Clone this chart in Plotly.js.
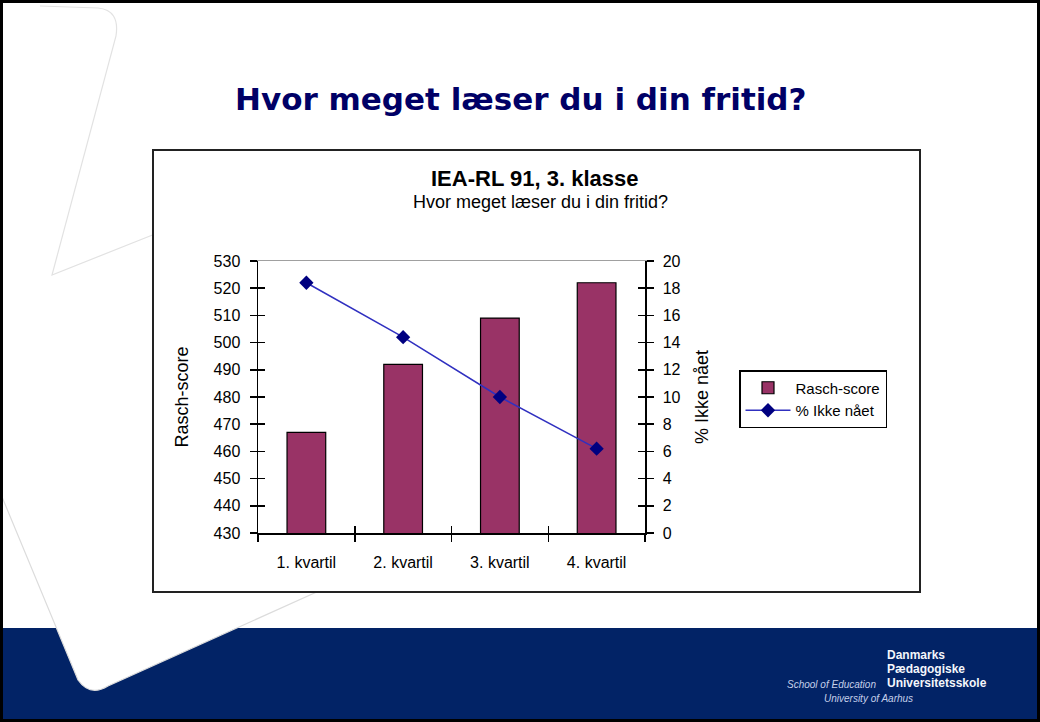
<!DOCTYPE html>
<html>
<head>
<meta charset="utf-8">
<script src="https://cdn.plot.ly/plotly-3.0.1.min.js"></script>
<style>
  html, body { margin: 0; padding: 0; background: #ffffff; }
  #chart { width: 1040px; height: 722px; }
</style>
</head>
<body>
<div id="chart"></div>
<script>
// ---- data ----
const categories = ['1. kvartil', '2. kvartil', '3. kvartil', '4. kvartil'];
const raschScore = [467, 492, 509, 522];
const pctIkkeNaaet = [18.4, 14.4, 10.0, 6.2];
const leftTicks = [430, 440, 450, 460, 470, 480, 490, 500, 510, 520, 530];
const rightTicks = [0, 2, 4, 6, 8, 10, 12, 14, 16, 18, 20];

const slideTitle = 'Hvor meget læser du i din fritid?';
const chartTitle = 'IEA-RL 91, 3. klasse';
const chartSubtitle = 'Hvor meget læser du i din fritid?';
const leftTitle = 'Rasch-score';
const rightTitle = '% Ikke nået';

// ---- layout helpers (pixel -> paper) ----
const L = 258, R = 645, T = 261, B = 533;
const px = x => (x - L) / (R - L);
const py = y => (B - y) / (B - T);
const path = pts => pts.map(p => {
  if (typeof p === 'string') return p;
  return px(p[0]).toFixed(5) + ',' + py(p[1]).toFixed(5);
}).join(' ');

const FONT = 'Liberation Sans, Arial, sans-serif';

const traces = [
  {
    type: 'bar',
    x: categories,
    y: raschScore,
    name: 'Rasch-score',
    marker: { color: '#993366', line: { color: '#000000', width: 1.2 } },
    xaxis: 'x', yaxis: 'y'
  },
  {
    type: 'scatter',
    mode: 'lines+markers',
    x: categories,
    y: pctIkkeNaaet,
    name: rightTitle,
    line: { color: '#3030c0', width: 1.5 },
    marker: { symbol: 'diamond', size: 11, color: '#000080' },
    xaxis: 'x', yaxis: 'y2'
  },
  // empty helper traces so the overlay axes (frame line, crossing ticks) get drawn
  { type: 'scatter', x: [], y: [], xaxis: 'x2', yaxis: 'y3', showlegend: false, hoverinfo: 'skip' },
  { type: 'scatter', x: [], y: [], xaxis: 'x3', yaxis: 'y4', showlegend: false, hoverinfo: 'skip' }
];

const shapes = [
  // footer band
  { type: 'rect', xref: 'paper', yref: 'paper', layer: 'below',
    x0: px(-5), x1: px(1045), y0: py(628), y1: py(727),
    fillcolor: '#022366', line: { width: 0 } },
  // white decorative shape (fill)
  { type: 'path', xref: 'paper', yref: 'paper', layer: 'below',
    path: 'M ' + path([[-5, 480], 'L', [78, 680], 'Q', [90, 697], [108, 686], 'L', [330, 586], 'L', [330, 480]]) + ' Z',
    fillcolor: '#ffffff', line: { width: 0 } },
  // decorative outline (lower)
  { type: 'path', xref: 'paper', yref: 'paper', layer: 'below',
    path: 'M ' + path([[-5, 480], 'L', [78, 680], 'Q', [90, 697], [108, 686], 'L', [330, 586]]),
    line: { color: '#dcdcdc', width: 1.2 } },
  // decorative outline (upper)
  { type: 'path', xref: 'paper', yref: 'paper', layer: 'below',
    path: 'M ' + path([[40, 6], 'L', [98, 8], 'Q', [120, 10], [116, 36], 'L', [52, 275], 'L', [160, 232]]),
    line: { color: '#e2e2e2', width: 1.2 } },
  // chart box
  { type: 'rect', xref: 'paper', yref: 'paper', layer: 'below',
    x0: px(153), x1: px(920), y0: py(592), y1: py(150),
    fillcolor: '#ffffff', line: { color: '#222222', width: 2 } },
  // slide border
  { type: 'rect', xref: 'paper', yref: 'paper', layer: 'above',
    x0: px(1.5), x1: px(1038.5), y0: py(720.5), y1: py(1.5),
    line: { color: '#000000', width: 3 } }
];

const annotations = [
  { text: '<b>' + slideTitle + '</b>', xref: 'paper', yref: 'paper',
    x: px(521), y: py(99), xanchor: 'center', yanchor: 'middle', showarrow: false,
    font: { family: 'DejaVu Sans, sans-serif', size: 31, color: '#000066' } },
  { text: '<b>' + chartTitle + '</b>', xref: 'paper', yref: 'paper',
    x: px(535), y: py(178), xanchor: 'center', yanchor: 'middle', showarrow: false,
    font: { family: FONT, size: 22, color: '#000000' } },
  { text: chartSubtitle, xref: 'paper', yref: 'paper',
    x: px(540), y: py(202), xanchor: 'center', yanchor: 'middle', showarrow: false,
    font: { family: FONT, size: 18, color: '#000000' } },
  // footer logo text
  { text: '<b>Danmarks</b>', xref: 'paper', yref: 'paper',
    x: px(885), y: py(655), xanchor: 'left', yanchor: 'middle', showarrow: false,
    font: { family: FONT, size: 12, color: '#f4f6fb' } },
  { text: '<b>Pædagogiske</b>', xref: 'paper', yref: 'paper',
    x: px(885), y: py(669), xanchor: 'left', yanchor: 'middle', showarrow: false,
    font: { family: FONT, size: 12, color: '#f4f6fb' } },
  { text: '<b>Universitetsskole</b>', xref: 'paper', yref: 'paper',
    x: px(885), y: py(683), xanchor: 'left', yanchor: 'middle', showarrow: false,
    font: { family: FONT, size: 12, color: '#f4f6fb' } },
  { text: '<i>School of Education</i>', xref: 'paper', yref: 'paper',
    x: px(878), y: py(684), xanchor: 'right', yanchor: 'middle', showarrow: false,
    font: { family: FONT, size: 10, color: '#c5d0ea' } },
  { text: '<i>University of Aarhus</i>', xref: 'paper', yref: 'paper',
    x: px(868), y: py(698), xanchor: 'center', yanchor: 'middle', showarrow: false,
    font: { family: FONT, size: 10, color: '#c5d0ea' } }
];

const axisFont = { family: FONT, size: 16, color: '#000000' };

const layout = {
  width: 1040, height: 722,
  margin: { l: L, r: 1040 - R, t: T, b: 722 - B, pad: 0 },
  paper_bgcolor: '#ffffff',
  plot_bgcolor: 'rgba(0,0,0,0)',
  font: { family: FONT, color: '#000000' },
  showlegend: true,
  bargap: 0.6,
  hovermode: false,
  xaxis: {
    type: 'category', categoryarray: categories, range: [-0.5, 3.5],
    ticks: 'outside', tickson: 'boundaries', ticklen: 7, tickwidth: 1.5, tickcolor: '#000',
    showline: true, linecolor: '#000', linewidth: 1.5,
    showgrid: false, zeroline: false, tickfont: axisFont, ticklabelstandoff: 14,
    fixedrange: true
  },
  xaxis2: {
    overlaying: 'x', anchor: 'y', side: 'top', range: [0, 1],
    showline: true, linecolor: '#a0a0a0', linewidth: 1.5,
    ticks: '', showticklabels: false, showgrid: false, zeroline: false
  },
  xaxis3: {
    overlaying: 'x', anchor: 'y', side: 'bottom', range: [-0.5, 3.5],
    tickvals: [0.5, 1.5, 2.5], ticks: 'inside', ticklen: 7, tickwidth: 1.5, tickcolor: '#000',
    showline: false, showticklabels: false, showgrid: false, zeroline: false
  },
  yaxis: {
    range: [430, 530], tickvals: leftTicks,
    ticks: 'outside', ticklen: 7, tickwidth: 1.5, tickcolor: '#000',
    showline: true, linecolor: '#000', linewidth: 1.5,
    showgrid: false, zeroline: false, tickfont: axisFont, ticklabelstandoff: 6,
    title: { text: leftTitle, font: { family: FONT, size: 18, color: '#000' }, standoff: 20 }
  },
  yaxis2: {
    overlaying: 'y', anchor: 'x', side: 'right', range: [0, 20], tickvals: rightTicks,
    ticks: 'outside', ticklen: 7, tickwidth: 1.5, tickcolor: '#000',
    showline: true, linecolor: '#000', linewidth: 1.5,
    showgrid: false, zeroline: false, tickfont: axisFont, ticklabelstandoff: 6,
    title: { text: rightTitle, font: { family: FONT, size: 18, color: '#000' }, standoff: 16 }
  },
  yaxis3: {
    overlaying: 'y', anchor: 'x', side: 'left', range: [430, 530], tickvals: leftTicks,
    ticks: 'inside', ticklen: 7, tickwidth: 1.5, tickcolor: '#000',
    showline: false, showticklabels: false, showgrid: false, zeroline: false
  },
  yaxis4: {
    overlaying: 'y', anchor: 'x', side: 'right', range: [0, 20], tickvals: rightTicks,
    ticks: 'inside', ticklen: 7, tickwidth: 1.5, tickcolor: '#000',
    showline: false, showticklabels: false, showgrid: false, zeroline: false
  },
  legend: {
    x: px(739), y: py(370), xanchor: 'left', yanchor: 'top',
    bgcolor: '#ffffff', bordercolor: '#000000', borderwidth: 1.5,
    font: { family: FONT, size: 15, color: '#000' },
    itemwidth: 45, traceorder: 'normal', tracegroupgap: 0
  },
  shapes: shapes,
  annotations: annotations
};

Plotly.newPlot('chart', traces, layout, { staticPlot: true, displayModeBar: false });
</script>
</body>
</html>
